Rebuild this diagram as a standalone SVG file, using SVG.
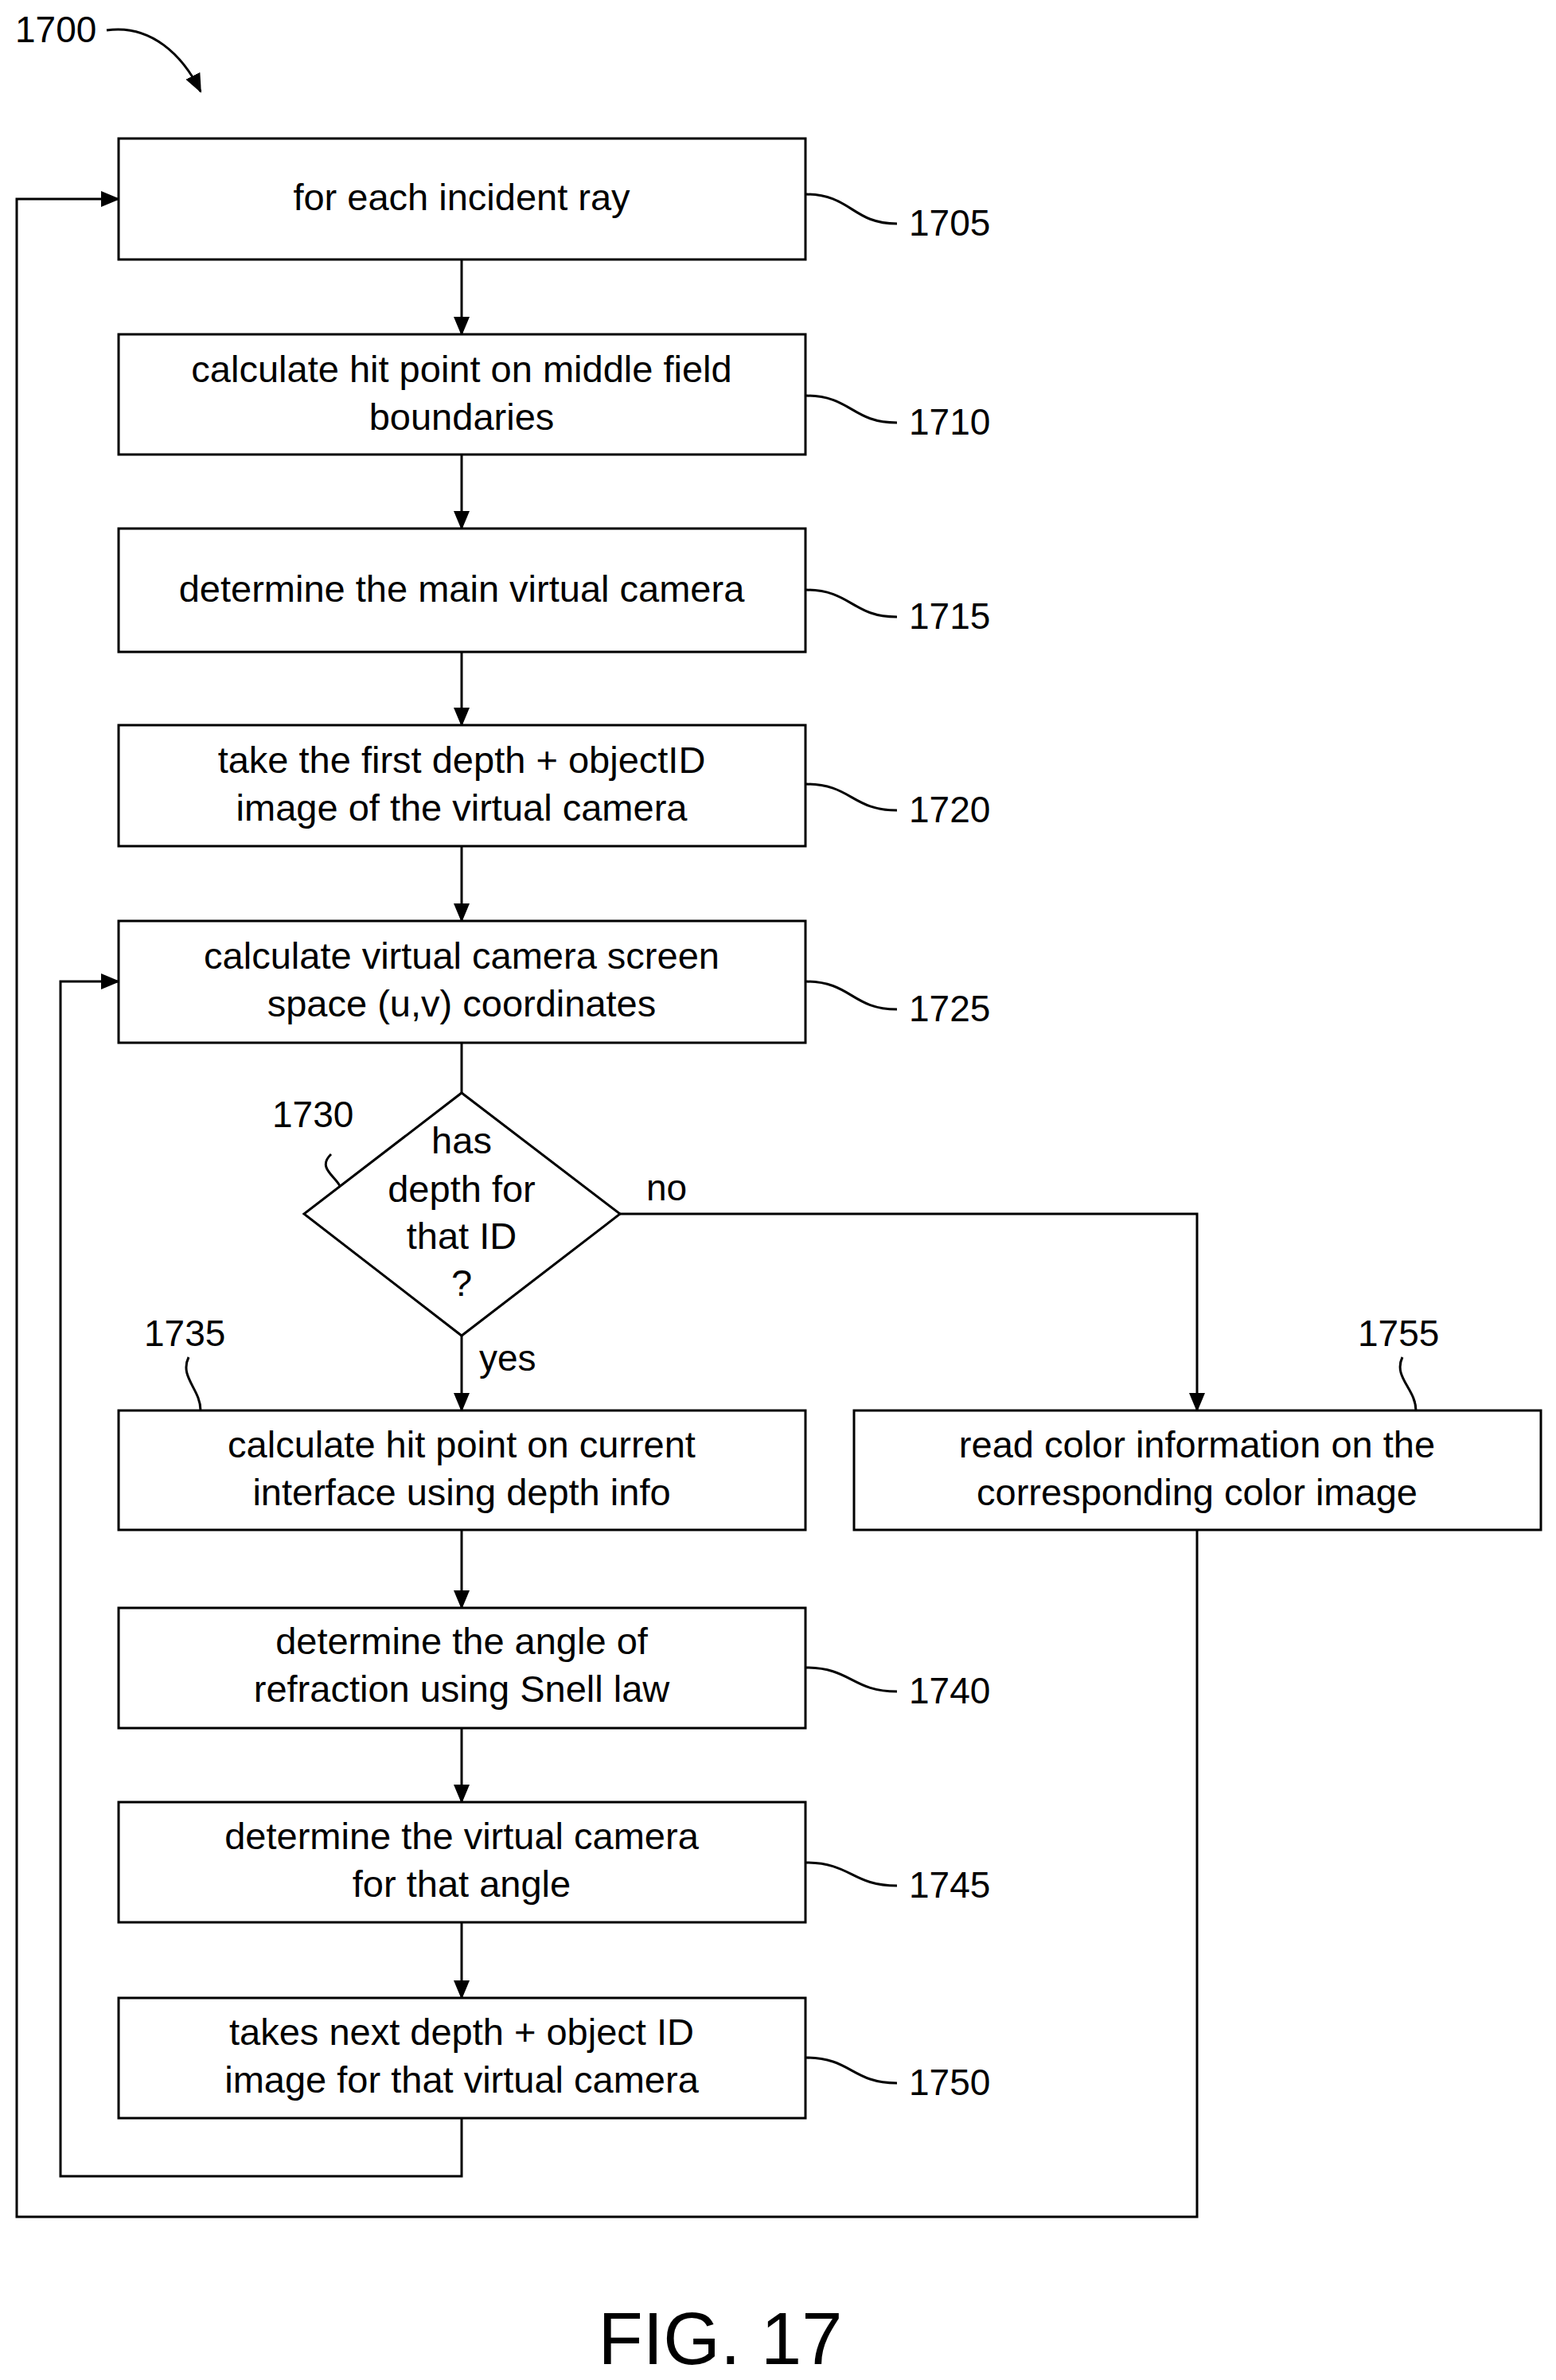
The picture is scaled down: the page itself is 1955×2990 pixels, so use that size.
<svg xmlns="http://www.w3.org/2000/svg" width="1955" height="2990" viewBox="0 0 1955 2990">
<style>
.b{fill:#fff;stroke:#000;stroke-width:3}
.t{font-family:"Liberation Sans",Arial,sans-serif;font-size:47px;fill:#000;text-anchor:middle}
.n{font-family:"Liberation Sans",Arial,sans-serif;font-size:46px;fill:#000}
.l{fill:none;stroke:#000;stroke-width:3}
</style>
<defs>
<marker id="A" markerWidth="24" markerHeight="24" refX="22" refY="12" orient="auto" markerUnits="userSpaceOnUse" viewBox="0 0 24 24"><path d="M0,2L24,12L0,22z"/></marker></defs>
<rect width="1955" height="2990" fill="#fff"/>
<g id="connectors">
<path class="l" marker-end="url(#A)" d="M580,326V420"/>
<path class="l" marker-end="url(#A)" d="M580,571V664"/>
<path class="l" marker-end="url(#A)" d="M580,819V911"/>
<path class="l" marker-end="url(#A)" d="M580,1063V1157"/>
<path class="l" d="M580,1310V1373"/>
<path class="l" marker-end="url(#A)" d="M580,1678V1772"/>
<path class="l" marker-end="url(#A)" d="M580,1922V2020"/>
<path class="l" marker-end="url(#A)" d="M580,2171V2264"/>
<path class="l" marker-end="url(#A)" d="M580,2415V2510"/>
<path class="l" marker-end="url(#A)" d="M580,2661V2734H76V1233H149"/>
<path class="l" marker-end="url(#A)" d="M1504,1922V2785H21V250H149"/>
<path class="l" marker-end="url(#A)" d="M779,1525H1504V1772"/>
<path class="l" d="M1012,244C1070,244 1070,281 1127,281M1012,497C1070,497 1070,531 1127,531M1012,741C1070,741 1070,775 1127,775M1012,985C1070,985 1070,1018 1127,1018M1012,1233C1070,1233 1070,1268 1127,1268M1012,2095C1070,2095 1070,2125 1127,2125M1012,2340C1070,2340 1070,2369 1127,2369M1012,2585C1070,2585 1070,2617 1127,2617"/>
<path class="l" d="M416,1450C395,1470 430,1480 430,1500M237,1705C225,1730 252,1745 252,1772M1762,1705C1750,1730 1779,1745 1779,1772"/>
<path class="l" marker-end="url(#A)" d="M134,38C190,30 230,70 252,115"/>
</g>
<g id="n1705"><rect class="b" x="149" y="174" width="863" height="152"/><text class="t" x="580" y="264">for each incident ray</text><text class="n" x="1142" y="296">1705</text></g>
<g id="n1710"><rect class="b" x="149" y="420" width="863" height="151"/><text class="t" x="580" y="480">calculate hit point on middle field</text><text class="t" x="580" y="540">boundaries</text><text class="n" x="1142" y="546">1710</text></g>
<g id="n1715"><rect class="b" x="149" y="664" width="863" height="155"/><text class="t" x="580" y="756">determine the main virtual camera</text><text class="n" x="1142" y="790">1715</text></g>
<g id="n1720"><rect class="b" x="149" y="911" width="863" height="152"/><text class="t" x="580" y="971">take the first depth + objectID</text><text class="t" x="580" y="1031">image of the virtual camera</text><text class="n" x="1142" y="1033">1720</text></g>
<g id="n1725"><rect class="b" x="149" y="1157" width="863" height="153"/><text class="t" x="580" y="1217">calculate virtual camera screen</text><text class="t" x="580" y="1277">space (u,v) coordinates</text><text class="n" x="1142" y="1283">1725</text></g>
<g id="n1730"><path class="b" d="M580,1373L779,1525L580,1678L382,1525Z"/><text class="t" x="580" y="1449">has</text><text class="t" x="580" y="1510">depth for</text><text class="t" x="580" y="1569">that ID</text><text class="t" x="580" y="1628">?</text><text class="n" x="342" y="1416">1730</text><text class="n" x="812" y="1508">no</text><text class="n" x="602" y="1722">yes</text></g>
<g id="n1735"><rect class="b" x="149" y="1772" width="863" height="150"/><text class="t" x="580" y="1831">calculate hit point on current</text><text class="t" x="580" y="1891">interface using depth info</text><text class="n" x="181" y="1691">1735</text></g>
<g id="n1755"><rect class="b" x="1073" y="1772" width="863" height="150"/><text class="t" x="1504" y="1831">read color information on the</text><text class="t" x="1504" y="1891">corresponding color image</text><text class="n" x="1706" y="1691">1755</text></g>
<g id="n1740"><rect class="b" x="149" y="2020" width="863" height="151"/><text class="t" x="580" y="2078">determine the angle of</text><text class="t" x="580" y="2138">refraction using Snell law</text><text class="n" x="1142" y="2140">1740</text></g>
<g id="n1745"><rect class="b" x="149" y="2264" width="863" height="151"/><text class="t" x="580" y="2323">determine the virtual camera</text><text class="t" x="580" y="2383">for that angle</text><text class="n" x="1142" y="2384">1745</text></g>
<g id="n1750"><rect class="b" x="149" y="2510" width="863" height="151"/><text class="t" x="580" y="2569">takes next depth + object ID</text><text class="t" x="580" y="2629">image for that virtual camera</text><text class="n" x="1142" y="2632">1750</text></g>
<text class="n" x="19" y="53">1700</text>
<text class="t" x="905" y="2970" style="font-size:92px">FIG. 17</text>
</svg>
